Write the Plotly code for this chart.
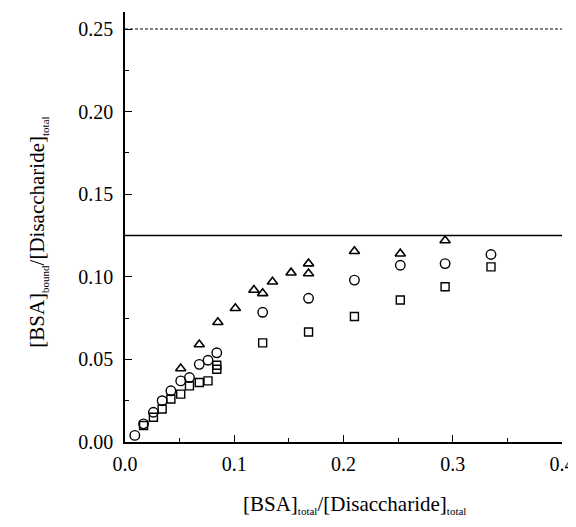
import plotly.graph_objects as go

# Data
tri_x = [0.051, 0.068, 0.085, 0.101, 0.118, 0.126, 0.135, 0.152, 0.168, 0.168, 0.210, 0.252, 0.293]
tri_y = [0.0445, 0.059, 0.0725, 0.081, 0.092, 0.090, 0.097, 0.1025, 0.108, 0.102, 0.1155, 0.114, 0.122]

circ_x = [0.009, 0.017, 0.026, 0.034, 0.042, 0.051, 0.059, 0.068, 0.076, 0.084, 0.126, 0.168, 0.210, 0.252, 0.293, 0.335]
circ_y = [0.004, 0.011, 0.018, 0.025, 0.031, 0.037, 0.039, 0.047, 0.0495, 0.054, 0.0785, 0.087, 0.098, 0.107, 0.108, 0.1135]

sq_x = [0.017, 0.026, 0.034, 0.042, 0.051, 0.059, 0.068, 0.076, 0.084, 0.084, 0.126, 0.168, 0.210, 0.252, 0.293, 0.335]
sq_y = [0.010, 0.015, 0.020, 0.026, 0.029, 0.034, 0.036, 0.037, 0.0465, 0.044, 0.060, 0.0666, 0.076, 0.086, 0.094, 0.106]

ref_x = [0.0, 0.4]
max_binding = [0.25, 0.25]
half_binding = [0.125, 0.125]

x_ticks = [0.0, 0.1, 0.2, 0.3, 0.4]
y_ticks = [0.00, 0.05, 0.10, 0.15, 0.20, 0.25]

FONT = "Liberation Serif"

fig = go.Figure()
fig.add_trace(go.Scatter(x=ref_x, y=max_binding, mode="lines",
                         line=dict(color="black", width=1, dash="3px,2px"), showlegend=False))
fig.add_trace(go.Scatter(x=ref_x, y=half_binding, mode="lines",
                         line=dict(color="black", width=1.3), showlegend=False))
fig.add_trace(go.Scatter(x=sq_x, y=sq_y, mode="markers",
                         marker=dict(symbol="square-open", size=8, color="black", line=dict(width=1.4)),
                         showlegend=False))
fig.add_trace(go.Scatter(x=circ_x, y=circ_y, mode="markers",
                         marker=dict(symbol="circle-open", size=9.5, color="black", line=dict(width=1.4)),
                         showlegend=False))
fig.add_trace(go.Scatter(x=tri_x, y=tri_y, mode="markers",
                         marker=dict(symbol="triangle-up-open", size=9, color="black", line=dict(width=1.6)),
                         showlegend=False))

# page body has an 8px default margin; figure sized so the page matches the 576x527 window
fig.update_layout(
    width=568, height=519,
    margin=dict(l=117, r=14, t=4, b=85),
    paper_bgcolor="white", plot_bgcolor="white",
    font=dict(family=FONT, size=20, color="black"),
    xaxis=dict(range=[0, 0.4], tickvals=x_ticks, ticktext=[f"{v:.1f}" for v in x_ticks],
               showline=True, linecolor="black", linewidth=1.5, showgrid=False, zeroline=False,
               ticks="inside", ticklen=7, tickwidth=1.2, tickcolor="black",
               minor=dict(ticks="inside", ticklen=4, dtick=0.05, tickcolor="black", showgrid=False),
               ticklabelstandoff=3, automargin=False),
    yaxis=dict(range=[0, 0.2603], tickvals=y_ticks, ticktext=[f"{v:.2f}" for v in y_ticks],
               showline=True, linecolor="black", linewidth=1.5, showgrid=False, zeroline=False,
               ticks="inside", ticklen=7, tickwidth=1.2, tickcolor="black",
               minor=dict(ticks="inside", ticklen=4, dtick=0.025, tickcolor="black", showgrid=False),
               ticklabelstandoff=6, automargin=False),
)

SUB = "<sub><span style='font-size:11px'>{}</span></sub>"
fig.add_annotation(text="[BSA]" + SUB.format("total") + "/[Disaccharide]" + SUB.format("total"),
                   xref="paper", yref="paper", x=0.526, y=-0.145, showarrow=False,
                   font=dict(family=FONT, size=21), xanchor="center", yanchor="middle")
fig.add_annotation(text="[BSA]" + SUB.format("bound") + "/[Disaccharide]" + SUB.format("total"),
                   xref="paper", yref="paper", x=-0.2, y=0.488, showarrow=False, textangle=-90,
                   font=dict(family=FONT, size=21), xanchor="center", yanchor="middle")

fig.write_html("out.html")
